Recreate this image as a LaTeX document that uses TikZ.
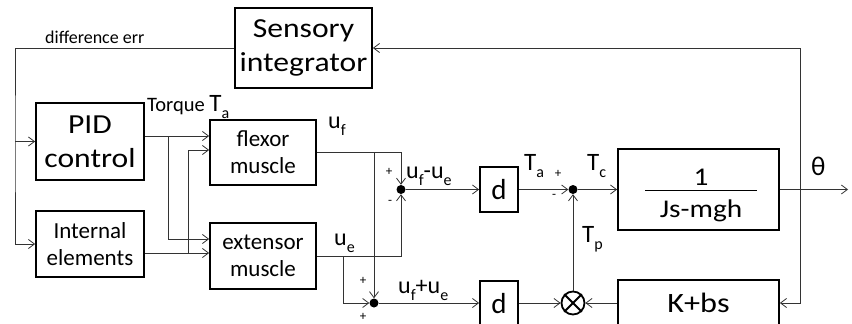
\documentclass[tikz,border=0pt]{standalone}
\usepackage{fontspec}
\setmainfont{Carlito}
\newfontfamily\widefont{Carlito}[FakeStretch=1.15]
\usetikzlibrary{arrows.meta}
\newcommand\sbx[1]{\raisebox{-0.3em}{\fontsize{16}{16}\selectfont #1}}
\begin{document}
\begin{tikzpicture}[x=1pt,y=-1pt,
  blk/.style={draw, line width=1.8pt, inner sep=0pt, align=center},
  ln/.style={line width=0.8pt, draw=black!80},
  arr/.style={ln, -{Straight Barb[length=6pt,width=9pt,line width=0.8pt]}},
  dot/.style={circle, fill=black, inner sep=0pt, minimum size=9pt},
  lbl/.style={inner sep=0pt, anchor=base west},
  big/.style={font=\widefont\fontsize{27.5}{34}\selectfont},
  mid/.style={font=\fontsize{23}{27}\selectfont},
  sgn/.style={inner sep=0pt, font=\fontsize{13}{13}\selectfont}]
\useasboundingbox (0,0) rectangle (852,324);
\clip (0,0) rectangle (852,324);
% blocks
\node[blk, big, minimum width=137pt, minimum height=80pt] (sens) at (303.5,48) {Sensory\\integrator};
\node[blk, big, minimum width=108pt, minimum height=77pt] (pid) at (90,141.5) {PID\\control};
\node[blk, mid, minimum width=108pt, minimum height=66pt] (ie) at (90,244) {Internal\\elements};
\node[blk, mid, minimum width=106pt, minimum height=65pt] (flex) at (263,152.5) {flexor\\muscle};
\node[blk, mid, minimum width=106pt, minimum height=66pt] (ext) at (263,256) {extensor\\muscle};
\node[blk, font=\fontsize{29}{29}\selectfont, minimum width=38pt, minimum height=45pt] (d1) at (499,189.5) {d};
\node[blk, font=\fontsize{29}{29}\selectfont, minimum width=38pt, minimum height=45pt] (d2) at (499,303.5) {\raisebox{-2pt}{d}};
\node[blk, minimum width=161pt, minimum height=81pt] (plant) at (698.5,189.5) {};
\node[blk, font=\widefont\fontsize{28}{28}\selectfont, minimum width=161pt, minimum height=46pt] (kbs) at (698.5,303) {K+bs};
\node[inner sep=0pt, anchor=base, font=\widefont\fontsize{25.5}{25.5}\selectfont] (one) at (701,185) {1};
\node[inner sep=0pt, anchor=base, font=\widefont\fontsize{25.5}{25.5}\selectfont] (jsm) at (701,217) {Js-mgh};
\draw[line width=0.9pt] (645,190.5) -- (757,190.5);
% junctions
\node[dot] (s1) at (401,189.5) {};
\node[dot] (s2) at (374,303) {};
\node[dot] (s3) at (573,189.5) {};
\node[draw, circle, line width=1.8pt, minimum size=23pt, inner sep=0pt] (ot) at (573,303) {};
\draw[line width=1.8pt] (ot.45) -- (ot.225) (ot.135) -- (ot.315);
% helper coordinates
\coordinate (lx) at (15,141.5);
\coordinate (yA) at (0,136);
\coordinate (yB) at (0,150);
\coordinate (yC) at (0,239);
\coordinate (yD) at (0,253);
\coordinate (bA) at (168,136);
\coordinate (bD) at (188,253);
\coordinate (bF) at (374,152.5);
\coordinate (bE) at (343,256);
\coordinate (fb) at (800,189.5);
\coordinate (out) at (848,189.5);
% connectors
\draw[arr] (sens.west) -| (lx) |- (ie.west);
\draw[arr] (lx) -- (pid.west);
\draw[arr] (pid.east |- yA) -- (flex.west |- yA);
\draw[arr] (bA) |- (ext.west |- yC);
\draw[arr] (ie.east |- yD) -- (ext.west |- yD);
\draw[arr] (bD) |- (flex.west |- yB);
\draw[arr] (flex.east) -| (s1);
\draw[arr] (bF) -- (s2);
\draw[arr] (ext.east) -| (s1);
\draw[arr] (bE) |- (s2);
\draw[arr] (s1) -- (d1.west);
\draw[arr] (s2) -- (d2.west |- s2);
\draw[arr] (d1.east) -- (s3);
\draw[arr] (s3) -- (plant.west);
\draw[arr] (plant.east) -- (out);
\draw[arr] (fb) |- (sens.east);
\draw[arr] (fb) |- (kbs.east);
\draw[arr] (d2.east |- ot) -- (ot);
\draw[arr] (kbs.west) -- (ot);
\draw[arr] (ot) -- (s3);
% labels
\node[lbl, font=\fontsize{18}{18}\selectfont] (ldiff) at (45,43) {difference err};
\node[lbl, font=\fontsize{20.5}{20.5}\selectfont] (ltorq) at (147,111) {Torque {\fontsize{25}{25}\selectfont T\sbx{a}}};
\node[lbl, font=\fontsize{24}{24}\selectfont] (luf) at (328,128) {u\sbx{f}};
\node[lbl, font=\fontsize{24}{24}\selectfont] (lue) at (334,245) {u\sbx{e}};
\node[lbl, font=\fontsize{24}{24}\selectfont] (ldif) at (406,178) {u\sbx{f}-u\sbx{e}};
\node[lbl, font=\fontsize{24}{24}\selectfont] (lsum) at (398,293) {u\sbx{f}+u\sbx{e}};
\node[lbl, font=\fontsize{25}{25}\selectfont] (lta) at (524,170) {T\sbx{a}};
\node[lbl, font=\fontsize{25}{25}\selectfont] (ltc) at (587,170) {T\sbx{c}};
\node[lbl, font=\fontsize{25}{25}\selectfont] (ltp) at (582,242) {T\sbx{p}};
\node[lbl, font=\fontsize{27}{27}\selectfont] (lth) at (811,175) {θ};
\node[sgn] (p1) at (389,172) {+};
\node[sgn] (m1) at (390,202) {-};
\node[sgn] (p2) at (363,281) {+};
\node[sgn] (p3) at (363,317) {+};
\node[sgn] (p4) at (558,174) {+};
\node[sgn] (m4) at (554,196) {-};
\end{tikzpicture}
\end{document}
